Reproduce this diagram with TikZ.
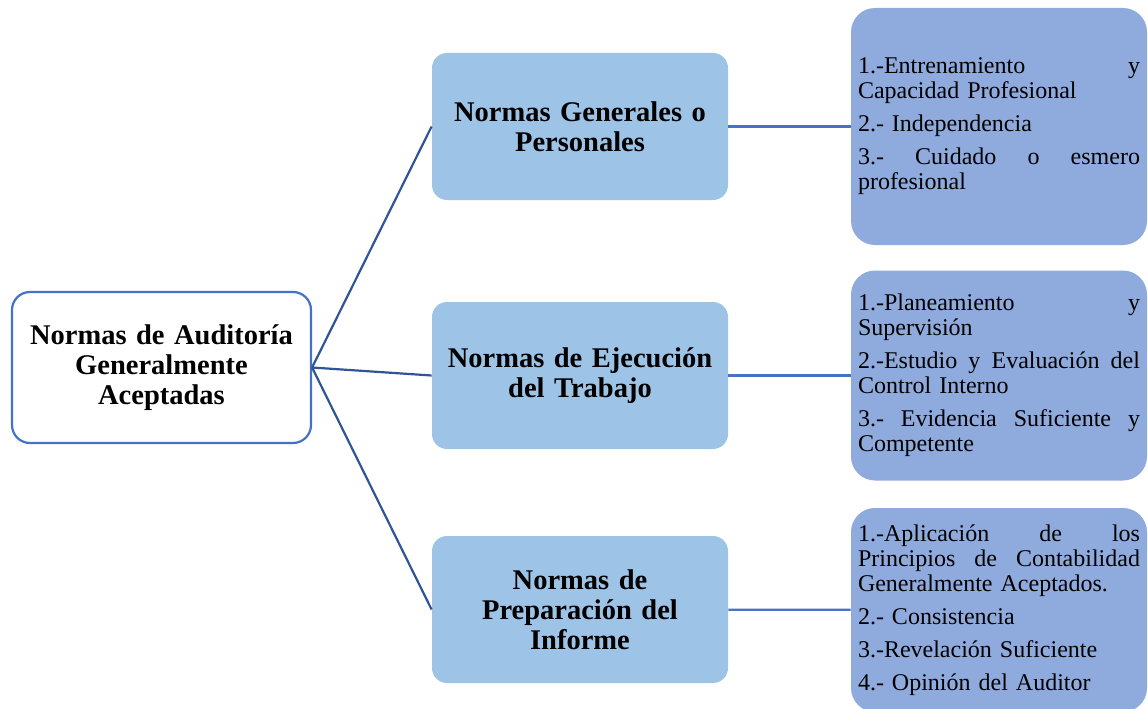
\documentclass[tikz,border=0pt]{standalone}
\usepackage{fontspec}
\setmainfont{Liberation Serif}
\usepackage{tikz}
\usetikzlibrary{arrows}
\usetikzlibrary{positioning}

\definecolor{rootline}{HTML}{4472C4}
\definecolor{branchline}{HTML}{2F5597}
\definecolor{normfill}{HTML}{9DC3E6}
\definecolor{listfill}{HTML}{8FAADC}

\begin{document}
\begin{tikzpicture}[x=1pt,y=-1pt,node distance=419pt,
	thick,root node/.style={rectangle, rounded corners=18pt, draw=rootline, line width=2.2pt, fill=white, minimum width=299pt, minimum height=151pt, text width=285pt, align=center, font=\fontsize{28.5}{30}\selectfont\bfseries},
	norm node/.style={rectangle, rounded corners=15pt, fill=normfill, minimum width=296pt, minimum height=147pt, text width=280pt, align=center, font=\fontsize{28.5}{30}\selectfont\bfseries},
	list node/.style={rectangle, rounded corners=24pt, fill=listfill, minimum width=296pt, text width=282pt, inner sep=7pt, align=left, font=\fontsize{24}{25}\selectfont}]
	
	\useasboundingbox (0,0) rectangle (1148,709);
	
	\def\fullline#1{{\spaceskip=0pt\xspaceskip=0pt\makebox[282pt][s]{#1}}}
	
	\node[root node] (nagas) at (161.5,367.5) {Normas de Auditoría\\ Generalmente\\ Aceptadas};
	
	\node[norm node] (gen) at (580,126.5) {Normas Generales o\\ Personales};
	\node[norm node] (ejec) at (580,375.5) {Normas de Ejecución\\ del Trabajo};
	\node[norm node] (inf) at (580,609.5) {Normas de\\ Preparación del\\ Informe};
	
	\node[list node, minimum height=237pt] (genlist) [right of=gen] {\fullline{1.-Entrenamiento y}\\ Capacidad Profesional\\[8pt] 2.- Independencia\\[8pt] \fullline{3.- Cuidado o esmero}\\ profesional};
	\node[list node, minimum height=210pt] (ejeclist) [right of=ejec] {\fullline{1.-Planeamiento y}\\ Supervisión\\[8pt] \fullline{2.-Estudio y Evaluación del}\\ Control Interno\\[8pt] \fullline{3.- Evidencia Suficiente y}\\ Competente};
	\node[list node, minimum height=204pt] (inflist) at (999,610) {\fullline{1.-Aplicación de los}\\ \fullline{Principios de Contabilidad}\\ Generalmente Aceptados.\\[8pt] 2.- Consistencia\\[8pt] 3.-Revelación Suficiente\\[8pt] 4.- Opinión del Auditor};
	
	\draw [branchline, line width=2.2pt] (nagas.east) -- (gen.west);
	\draw [branchline, line width=2.2pt] (nagas.east) -- (ejec.west);
	\draw [branchline, line width=2.2pt] (nagas.east) -- (inf.west);
	
	\draw [rootline, line width=2.2pt] (gen) -- (genlist);
	\draw [rootline, line width=2.2pt] (ejec) -- (ejeclist);
	\draw [rootline, line width=2.2pt] (inf) -- (inflist);
\end{tikzpicture}
\end{document}
